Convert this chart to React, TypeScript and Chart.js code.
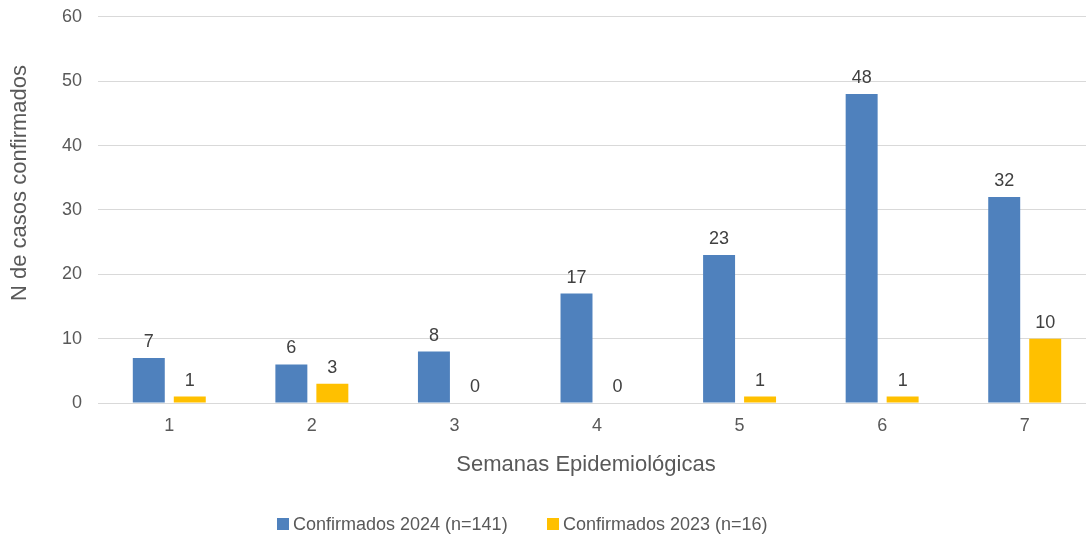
import React, { useEffect, useRef } from "react";
import { Chart, registerables } from "chart.js";

Chart.register(...registerables);

const weeks = ["1", "2", "3", "4", "5", "6", "7"];
const confirmed2024 = [7, 6, 8, 17, 23, 48, 32];
const confirmed2023 = [1, 3, 0, 0, 1, 1, 10];
const label2024 = "Confirmados 2024 (n=141)";
const label2023 = "Confirmados 2023 (n=16)";
const xTitle = "Semanas Epidemiológicas";
const yTitle = "N de casos confirmados";

const BLUE = "#4f81bd";
const YELLOW = "#ffc000";
const TEXT = "#595959";
const FONT = "Arial, 'Liberation Sans', sans-serif";
const SHIFT = 10; // canvas is offset upward by this many pixels

const extrasPlugin = {
  id: "extras",
  afterDatasetsDraw(chart: any) {
    const ctx = chart.ctx;
    ctx.save();
    ctx.font = `18px ${FONT}`;
    ctx.fillStyle = "#404040";
    ctx.textAlign = "center";
    ctx.textBaseline = "alphabetic";
    chart.data.datasets.forEach((ds: any, i: number) => {
      const meta = chart.getDatasetMeta(i);
      meta.data.forEach((el: any, j: number) => {
        ctx.fillText(String(ds.data[j]), el.x, el.y - 11);
      });
    });
    ctx.restore();
  },
  afterDraw(chart: any) {
    const ctx = chart.ctx;
    ctx.save();
    ctx.translate(0, SHIFT);
    ctx.fillStyle = TEXT;
    ctx.textBaseline = "alphabetic";
    // axis titles
    ctx.font = `22px ${FONT}`;
    ctx.textAlign = "center";
    ctx.fillText(xTitle, 586, 471);
    ctx.save();
    ctx.translate(26, 183);
    ctx.rotate(-Math.PI / 2);
    ctx.fillText(yTitle, 0, 0);
    ctx.restore();
    // legend
    ctx.font = `18px ${FONT}`;
    ctx.textAlign = "left";
    const items = [
      { x: 277, color: chart.data.datasets[0].backgroundColor, text: chart.data.datasets[0].label },
      { x: 547, color: chart.data.datasets[1].backgroundColor, text: chart.data.datasets[1].label },
    ];
    items.forEach((it) => {
      ctx.fillStyle = it.color;
      ctx.fillRect(it.x, 518, 12, 12);
      ctx.fillStyle = TEXT;
      ctx.fillText(it.text, it.x + 16, 530);
    });
    ctx.restore();
  },
};

export default function App() {
  const ref = useRef<HTMLCanvasElement | null>(null);
  useEffect(() => {
    if (!ref.current) return;
    const chart = new Chart(ref.current, {
      type: "bar",
      data: {
        labels: weeks,
        datasets: [
          { label: label2024, data: confirmed2024, backgroundColor: BLUE, categoryPercentage: 0.575, barPercentage: 0.78 },
          { label: label2023, data: confirmed2023, backgroundColor: YELLOW, categoryPercentage: 0.575, barPercentage: 0.78 },
        ],
      },
      options: {
        responsive: false,
        animation: false,
        layout: { padding: { left: 0, right: 4, top: 6, bottom: 0 } },
        plugins: { legend: { display: false }, tooltip: { enabled: false } },
        scales: {
          x: {
            grid: { display: false, drawTicks: false },
            border: { display: false },
            ticks: { color: TEXT, font: { size: 18, family: FONT }, padding: 12 },
            afterFit(scale: any) {
              scale.height = 133;
            },
          },
          y: {
            min: 0,
            max: 60,
            grid: { color: "#d9d9d9", drawTicks: false },
            border: { display: false },
            ticks: { stepSize: 10, color: TEXT, font: { size: 18, family: FONT }, padding: 16 },
            afterFit(scale: any) {
              scale.width = 98;
            },
          },
        },
      },
      plugins: [extrasPlugin],
    });
    return () => chart.destroy();
  }, []);
  return (
    <div style={{ position: "fixed", left: 0, top: 0, width: 1086, height: 536, overflow: "hidden", background: "#fff" }}>
      <canvas ref={ref} width={1100} height={536 + SHIFT} style={{ display: "block", position: "absolute", left: 0, top: -SHIFT }} />
    </div>
  );
}
